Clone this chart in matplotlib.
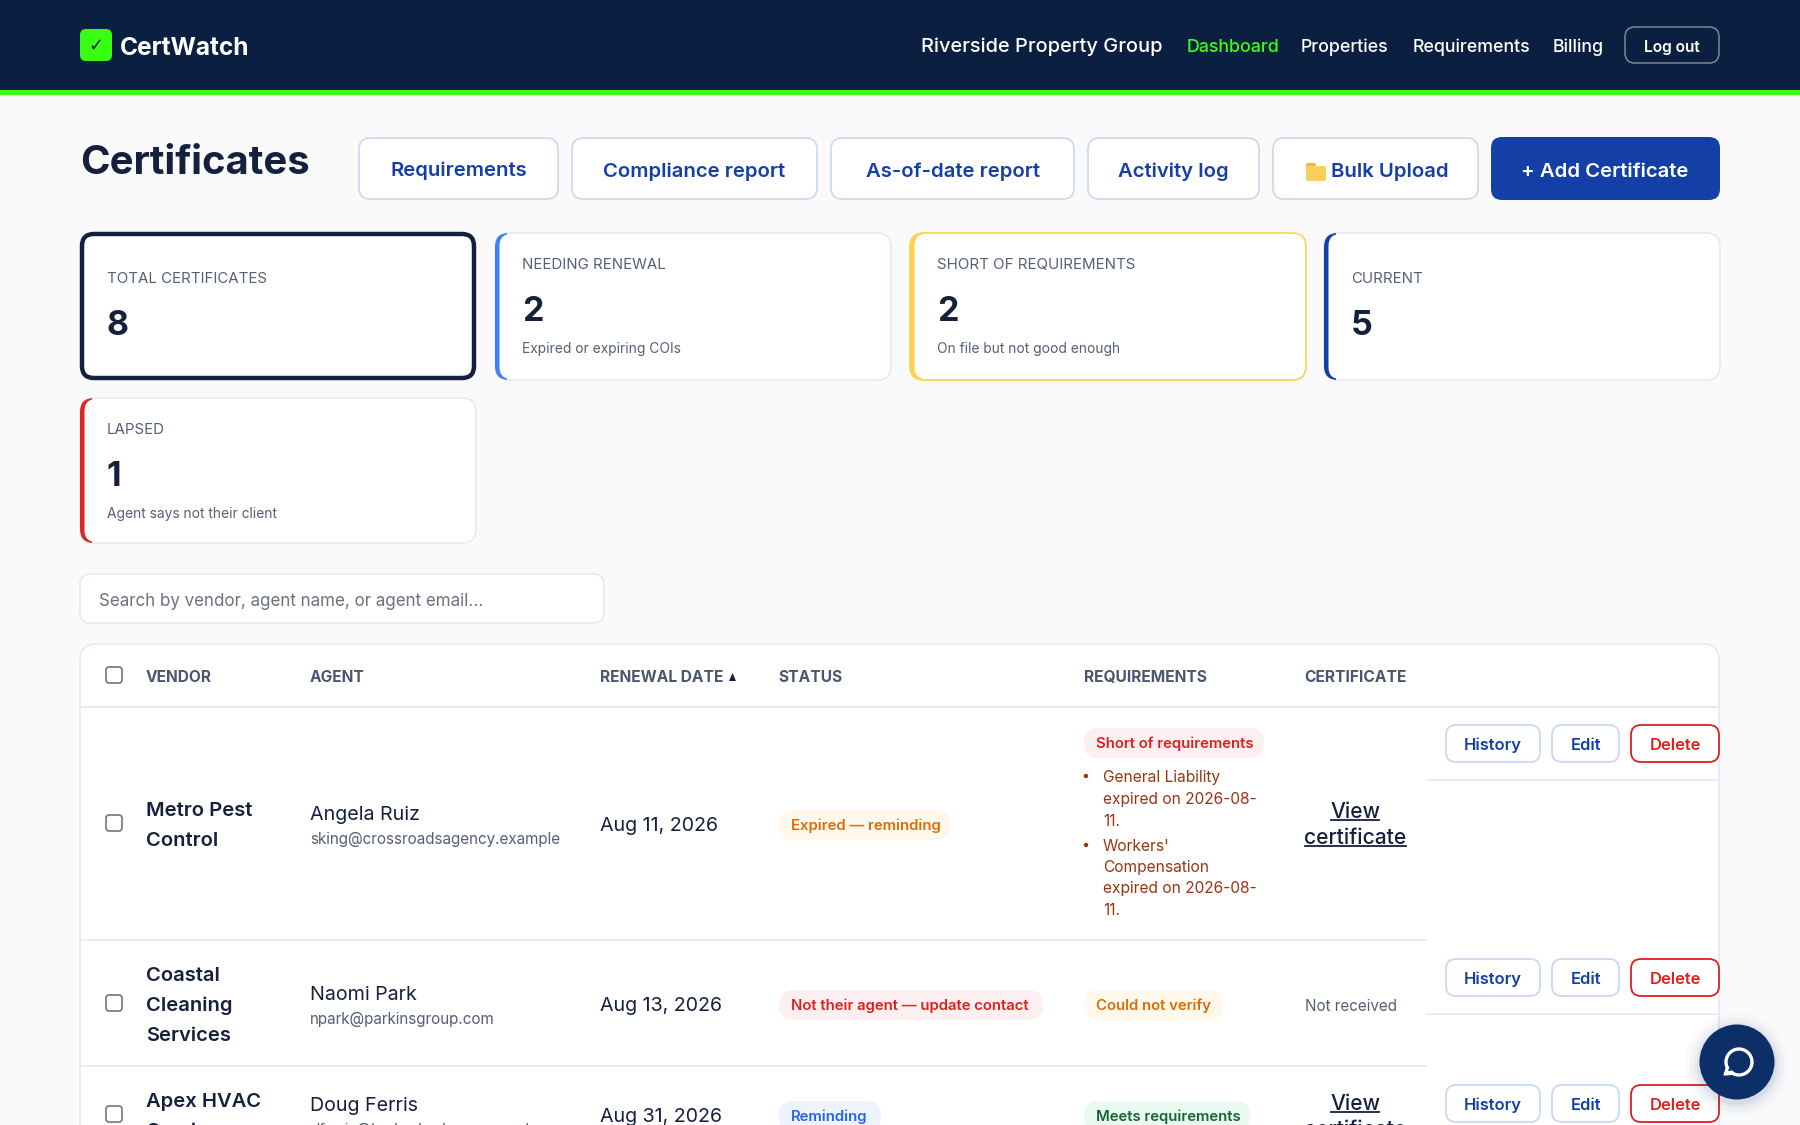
import matplotlib
matplotlib.use('Agg')
from matplotlib import pyplot as plt
from matplotlib.patches import FancyBboxPatch, Rectangle, Circle, Polygon

plt.rcParams['font.family'] = ['Inter', 'DejaVu Sans']

NAVY = '#0b2040'
GREEN = '#39ff14'
BLUE = '#143fa6'
INK = '#14213d'
GREY = '#556075'
LINE = '#e3eaf7'
BTN_LINE = '#c9d8f3'
RED = '#e01f1f'
PAGE = '#fafafa'

# text content
brand = 'CertWatch'
org = 'Riverside Property Group'
nav_labels = ['Dashboard', 'Properties', 'Requirements', 'Billing']
nav_x = [1187, 1301, 1413, 1553]
nav_colors = [GREEN, 'white', 'white', 'white']

top_buttons = ['Requirements', 'Compliance report', 'As-of-date report', 'Activity log', 'Bulk Upload']
top_left = [359, 572, 831, 1088, 1273]
top_right = [558, 817, 1074, 1259, 1478]

card_labels = ['TOTAL CERTIFICATES', 'NEEDING RENEWAL', 'SHORT OF REQUIREMENTS', 'CURRENT', 'LAPSED']
card_values = ['8', '2', '2', '5', '1']
card_notes = ['', 'Expired or expiring COIs', 'On file but not good enough', '', 'Agent says not their client']
card_left = [80, 495, 910, 1324, 80]
card_top = [233, 233, 233, 233, 398]
card_bottom = [380, 380, 380, 380, 543]
card_accent = [INK, '#3b82f6', '#fcd34d', BLUE, '#dc2626']

columns = ['VENDOR', 'AGENT', 'RENEWAL DATE', 'STATUS', 'REQUIREMENTS', 'CERTIFICATE']
column_x = [146, 310, 600, 778, 1084, 1304]

vendors = [['Metro Pest', 'Control'], ['Coastal', 'Cleaning', 'Services'], ['Apex HVAC', 'Services']]
vendor_y = [[809, 839], [974, 1004, 1034], [1100, 1130]]
agents = ['Angela Ruiz', 'Naomi Park', 'Doug Ferris']
agent_y = [813, 993, 1104]
emails = ['sking@crossroadsagency.example', 'npark@parkinsgroup.com', 'dferris@harborbrokers.example']
email_y = [839, 1019, 1130]
dates = ['Aug 11, 2026', 'Aug 13, 2026', 'Aug 31, 2026']
date_y = [824, 1004, 1115]
check_y = [823, 1003, 1114]

# label, left, right, top, background, text colour
badges = [
    ('Expired — reminding', 779, 950, 810, '#fff8eb', '#dd6b06'),
    ('Not their agent — update contact', 779, 1043, 990, '#fef0f0', RED),
    ('Reminding', 779, 881, 1101, '#edf4ff', '#2563eb'),
    ('Short of requirements', 1084, 1264, 728, '#fef0f0', RED),
    ('Could not verify', 1084, 1223, 990, '#fff8eb', '#dd6b06'),
    ('Meets requirements', 1084, 1250, 1101, '#e9fbf0', '#166534'),
]

req_lines = ['General Liability', 'expired on 2026-08-', '11.', "Workers'", 'Compensation', 'expired on 2026-08-', '11.']
req_y = [776, 798, 820, 845, 866, 887, 909]
bullet_y = [776, 845]

action_y = [725, 959, 1085]
actions = ['History', 'Edit', 'Delete']
action_left = [1446, 1552, 1631]
action_right = [1540, 1619, 1719]


def box(ax, x0, y0, x1, y1, r, fc, ec='none', lw=1.0, z=2):
    p = FancyBboxPatch((x0, y0), x1 - x0, y1 - y0, boxstyle=f'round,pad=0,rounding_size={r}',
                       fc=fc, ec=ec, lw=lw, zorder=z)
    ax.add_patch(p)
    return p


def txt(ax, x, y, s, px, color=INK, weight='normal', ha='left', z=5):
    # px is the css-like size in pixels, dpi is 100. baseline so descenders dont shift the line
    return ax.text(x, y + 0.36 * px, s, fontsize=px * 0.72, color=color, fontweight=weight,
                   ha=ha, va='baseline', zorder=z)


fig = plt.figure(figsize=(18, 11.25), dpi=100, facecolor=PAGE)
ax = fig.add_axes([0, 0, 1, 1])
ax.set_xlim(0, 1800)
ax.set_ylim(1125, 0)
ax.axis('off')

# header
ax.add_patch(Rectangle((0, 0), 1800, 90, fc=NAVY, ec='none', zorder=1))
ax.add_patch(Rectangle((0, 90), 1800, 5, fc=GREEN, ec='none', zorder=1))
box(ax, 80, 29, 112, 61, 6, GREEN)
ax.text(96, 46, '✓', fontsize=13, color=NAVY, ha='center', va='center', zorder=5,
        family='DejaVu Sans', fontweight='bold')
txt(ax, 120, 46, brand, 24.5, 'white', 'bold')
txt(ax, 921, 45, org, 20, 'white', 'medium')
for label, x, col in zip(nav_labels, nav_x, nav_colors):
    txt(ax, x, 46, label, 17.8, col, 'medium')
box(ax, 1625, 27, 1719, 63, 10, 'none', '#7c8797', 1.1)
txt(ax, 1672, 46, 'Log out', 15.5, 'white', 'semibold', ha='center')

# title row
txt(ax, 80, 160, 'Certificates', 40, INK, 'bold')
for label, x0, x1 in zip(top_buttons, top_left, top_right):
    box(ax, x0, 138, x1, 199, 11, 'white', BTN_LINE, 1.2)
    cx = (x0 + x1) / 2
    if label == 'Bulk Upload':
        cx = 1390
        # folder icon, no emoji font here
        box(ax, 1306, 163, 1316, 172, 2, '#f0b93a')
        box(ax, 1306, 166, 1326, 181, 2, '#fbcf5b', z=3)
    y = 169 if label == 'Requirements' else 170
    txt(ax, cx, y, label, 20.3, BLUE, 'semibold', ha='center')
box(ax, 1491, 137, 1720, 200, 11, BLUE)
txt(ax, 1605, 170, '+ Add Certificate', 20.3, 'white', 'semibold', ha='center')

# stat cards
for i in range(5):
    x0, y0, y1 = card_left[i], card_top[i], card_bottom[i]
    x1 = x0 + 396
    if i == 0:
        box(ax, x0 + 2, y0 + 1, x1 - 2, y1 - 2, 12, 'white', INK, 3.2)
    else:
        edge = card_accent[i] if i == 2 else LINE
        box(ax, x0, y0, x1, y1, 14, 'white', edge, 1.2)
        band = box(ax, x0, y0, x1, y1, 14, card_accent[i], z=3)
        band.set_clip_path(Rectangle((x0, y0), 12, y1 - y0, transform=ax.transData))
        box(ax, x0 + 4.5, y0 + 1, x1 - 2, y1 - 1, 12, 'white', z=3)
    tx = x0 + 27
    if card_notes[i]:
        ly, vy, ny = y0 + 31, y0 + 76, y0 + 115
        txt(ax, tx, ny, card_notes[i], 13.8, GREY)
    else:
        ly, vy = y0 + 45, y0 + 90
    txt(ax, tx, ly, card_labels[i], 15, GREY)
    txt(ax, tx, vy, card_values[i], 34, INK, 'bold')

# search box
box(ax, 80, 574, 604, 623, 10, 'white', LINE, 1.2)
txt(ax, 99, 600, 'Search by vendor, agent name, or agent email...', 17, '#6b7280')

# table
box(ax, 80, 644, 1719, 1300, 16, 'white', LINE, 1.2)
ax.plot([80, 1719], [707, 707], color=LINE, lw=1.5, zorder=3)
ax.plot([80, 1426], [940, 940], color=LINE, lw=1.2, zorder=3)
ax.plot([80, 1426], [1066, 1066], color=LINE, lw=1.2, zorder=3)
ax.plot([1426, 1719], [780, 780], color=LINE, lw=1.2, zorder=3)
ax.plot([1426, 1719], [1014, 1014], color=LINE, lw=1.2, zorder=3)

for label, x in zip(columns, column_x):
    txt(ax, x, 676, label, 15.5, '#4a5670', 'bold')
ax.add_patch(Polygon([[729, 681], [736, 681], [732.5, 673]], fc=INK, ec='none', zorder=5))

for cy in [675] + check_y:
    box(ax, 106, cy - 8, 122, cy + 8, 3, 'white', '#767676', 1.2)

for rows, ys in zip(vendors, vendor_y):
    for line, y in zip(rows, ys):
        txt(ax, 146, y, line, 20.2, INK, 'semibold')
for name, y in zip(agents, agent_y):
    txt(ax, 310, y, name, 19.7, INK)
for mail, y in zip(emails, email_y):
    txt(ax, 310, y, mail, 15.2, GREY)
for d, y in zip(dates, date_y):
    txt(ax, 600, y, d, 19.6, INK)

for label, x0, x1, y0, bg, fg in badges:
    box(ax, x0, y0, x1, y0 + 30, 14.5, bg)
    txt(ax, x0 + 12, y0 + 15, label, 14.9, fg, 'semibold')

for line, y in zip(req_lines, req_y):
    txt(ax, 1103, y, line, 15.5, '#9a3412')
for y in bullet_y:
    ax.add_patch(Circle((1086, y), 2.2, fc='#9a3412', ec='none', zorder=5))

for y0 in [810, 1102]:
    txt(ax, 1355, y0, 'View', 21, INK, 'medium', ha='center')
    ax.plot([1331, 1379], [y0 + 10, y0 + 10], color=INK, lw=1.3, zorder=5)
for y0 in [836, 1128]:
    txt(ax, 1355, y0, 'certificate', 21, INK, 'medium', ha='center')
    ax.plot([1305, 1406], [y0 + 10, y0 + 10], color=INK, lw=1.3, zorder=5)
txt(ax, 1305, 1006, 'Not received', 15.2, GREY)

for y0 in action_y:
    for label, x0, x1 in zip(actions, action_left, action_right):
        col = RED if label == 'Delete' else BLUE
        edge = RED if label == 'Delete' else BTN_LINE
        box(ax, x0, y0, x1, y0 + 37, 10, 'white', edge, 1.3, z=4)
        txt(ax, (x0 + x1) / 2, y0 + 19, label, 16.5, col, 'semibold', ha='center')

# chat bubble with soft shadow
for r, a in [(52, 0.02), (47, 0.03), (43, 0.04), (40, 0.05)]:
    ax.add_patch(Circle((1737, 1065), r, fc='#0b2f66', ec='none', alpha=a, zorder=8))
ax.add_patch(Circle((1737, 1062), 37.5, fc='#0b2f66', ec='none', zorder=9))
ax.add_patch(Circle((1739, 1062), 13, fc='none', ec='white', lw=2.4, zorder=10))
ax.add_patch(Polygon([[1727, 1066], [1724, 1075], [1735, 1074]], fc='white', ec='white', lw=1, zorder=10))
ax.add_patch(Polygon([[1730, 1066], [1728, 1071], [1735, 1070]], fc='#0b2f66', ec='none', zorder=11))

fig.savefig('out.png', dpi=100, facecolor=PAGE)
